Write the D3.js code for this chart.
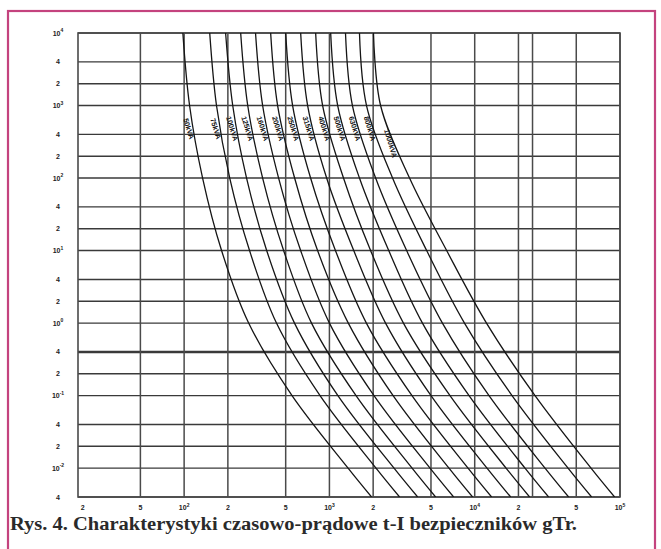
<!DOCTYPE html>
<html>
<head>
<meta charset="utf-8">
<script src="https://cdn.jsdelivr.net/npm/d3@7"></script>
<style>
  html, body { margin: 0; padding: 0; background: #fff; }
  svg { display: block; }
</style>
</head>
<body>
<svg id="chart" width="661" height="549"></svg>
<script>
// ---- data ----
const captionText = "Rys. 4. Charakterystyki czasowo-prądowe t-I bezpieczników gTr.";
const curveLabels = ["50kVA","75kVA","100kVA","125kVA","160kVA","200kVA","250kVA","315kVA","400kVA","500kVA","630kVA","800kVA","1000kVA"];
// times (s) at which currents were read
const times = [10000, 1000, 100, 10, 1, 0.1, 0.01, 0.004];
// current (A) of each curve at those times
const curve50   = [98, 109, 134, 181, 278, 553, 1344, 1950];
const curve75   = [150, 167, 206, 282, 432, 862, 2093, 3040];
const curve100  = [193, 216, 269, 370, 575, 1144, 2784, 4050];
const curve125  = [245, 274, 347, 484, 753, 1525, 3706, 5380];
const curve160  = [310, 347, 447, 634, 1000, 2027, 4925, 7160];
const curve200  = [394, 440, 576, 829, 1349, 2744, 6653, 9670];
const curve250  = [500, 558, 742, 1100, 1796, 3701, 8995, 13070];
const curve315  = [634, 708, 957, 1470, 2434, 5003, 12154, 17670];
const curve400  = [804, 898, 1250, 1920, 3231, 6761, 16435, 23870];
const curve500  = [1020, 1140, 1610, 2560, 4368, 9142, 22195, 32260];
const curve630  = [1290, 1440, 2080, 3400, 5994, 12546, 30480, 44290];
const curve800  = [1610, 1800, 2720, 4670, 8502, 18070, 43882, 63760];
const curve1000 = [2010, 2250, 3560, 6410, 12051, 26012, 63178, 91800];
const curves = [curve50, curve75, curve100, curve125, curve160, curve200, curve250,
                curve315, curve400, curve500, curve630, curve800, curve1000];

const xTicks = [20, 50, 100, 200, 500, 1000, 2000, 5000, 10000, 20000, 50000, 100000];
const xTickText = ["2","5","10|2","2","5","10|3","2","5","10|4","2","5","10|5"];
const xGrid = [50, 100, 200, 500, 1000, 2000, 5000, 10000, 20000, 25000, 50000, 100000];
const yTicks = [10000, 4000, 2000, 1000, 400, 200, 100, 40, 20, 10, 4, 2, 1, 0.4, 0.2, 0.1, 0.04, 0.02, 0.01, 0.004];
const yTickText = ["10|4","4","2","10|3","4","2","10|2","4","2","10|1","4","2","10|0","4","2","10|-1","4","2","10|-2","4"];
const xDomain = [18.6, 100000];
const yDomain = [0.004, 10000];

// ---- layout ----
const svg = d3.select("#chart");
const L = 78, R = 620, T = 33, B = 497;

const x = d3.scaleLog().domain(xDomain).range([L, R]);
const y = d3.scaleLog().domain(yDomain).range([B, T]);

svg.append("rect").attr("width", 661).attr("height", 549).attr("fill", "#fff");

// pink frame
svg.append("rect")
  .attr("x", 8).attr("y", 11).attr("width", 647).attr("height", 570)
  .attr("fill", "none").attr("stroke", "#c4437e").attr("stroke-width", 2.2);

const grid = svg.append("g");
grid.selectAll("line.h").data(yTicks).join("line")
  .attr("x1", L).attr("x2", R)
  .attr("y1", d => y(d)).attr("y2", d => y(d))
  .attr("stroke", "#3a3a3a")
  .attr("stroke-width", d => d === 0.4 ? 2.4 : 1.4);
grid.selectAll("line.v").data(xGrid).join("line")
  .attr("x1", d => x(d)).attr("x2", d => x(d))
  .attr("y1", T).attr("y2", B)
  .attr("stroke", "#4a4a4a").attr("stroke-width", 1.5);
grid.append("rect")
  .attr("x", L).attr("y", T).attr("width", R - L).attr("height", B - T)
  .attr("fill", "none").attr("stroke", "#4a4a4a").attr("stroke-width", 1.6);

svg.append("clipPath").attr("id", "plotclip")
  .append("rect").attr("x", L).attr("y", T).attr("width", R - L).attr("height", B - T);

const line = d3.line()
  .x(d => x(d[0])).y(d => y(d[1]))
  .curve(d3.curveCatmullRom.alpha(0.5));

const cg = svg.append("g").attr("clip-path", "url(#plotclip)");
curves.forEach((c) => {
  const pts = c.map((I, k) => [I, times[k]]);
  cg.append("path").attr("d", line(pts))
    .attr("fill", "none").attr("stroke", "#151515").attr("stroke-width", 1.3);
});

// curve labels
const labelTime = 480;
function currentAt(c, t) {
  for (let k = 0; k < times.length - 1; k++) {
    if (t <= times[k] && t >= times[k + 1]) {
      const f = (Math.log(times[k]) - Math.log(t)) / (Math.log(times[k]) - Math.log(times[k + 1]));
      return Math.exp(Math.log(c[k]) + f * (Math.log(c[k + 1]) - Math.log(c[k])));
    }
  }
  return c[0];
}
curves.forEach((c, i) => {
  const tt = i === 12 ? 300 : labelTime;
  const px = x(currentAt(c, tt)) - 5;
  const py = y(tt);
  svg.append("text")
    .attr("transform", `translate(${px},${py}) rotate(73)`)
    .attr("text-anchor", "middle")
    .attr("dy", "0.35em")
    .attr("font-family", "Liberation Sans, Arial, sans-serif")
    .attr("font-weight", "bold")
    .attr("font-size", 7.2)
    .attr("fill", "#111")
    .text(curveLabels[i]);
});

function powLabel(sel, s) {
  const parts = s.split("|");
  sel.append("tspan").text(parts[0]);
  if (parts.length > 1) {
    sel.append("tspan").attr("dy", -3.5).attr("font-size", 5).text(parts[1]);
  }
}
const fontAxis = "Liberation Sans, Arial, sans-serif";
yTicks.forEach((v, i) => {
  const t = svg.append("text")
    .attr("x", 58).attr("y", y(v) + 2.5)
    .attr("text-anchor", "middle")
    .attr("font-family", fontAxis).attr("font-weight", "bold")
    .attr("font-size", 7).attr("fill", "#222");
  powLabel(t, yTickText[i]);
});
xTicks.forEach((v, i) => {
  const t = svg.append("text")
    .attr("x", x(v)).attr("y", 510)
    .attr("text-anchor", "middle")
    .attr("font-family", fontAxis).attr("font-weight", "bold")
    .attr("font-size", 7).attr("fill", "#222");
  powLabel(t, xTickText[i]);
});

svg.append("text")
  .attr("x", 10).attr("y", 530)
  .attr("font-family", "Liberation Serif, 'DejaVu Serif', serif")
  .attr("font-weight", "bold")
  .attr("font-size", 18)
  .attr("fill", "#2a2a2a")
  .attr("textLength", 567)
  .attr("lengthAdjust", "spacingAndGlyphs")
  .text(captionText);
</script>
</body>
</html>
